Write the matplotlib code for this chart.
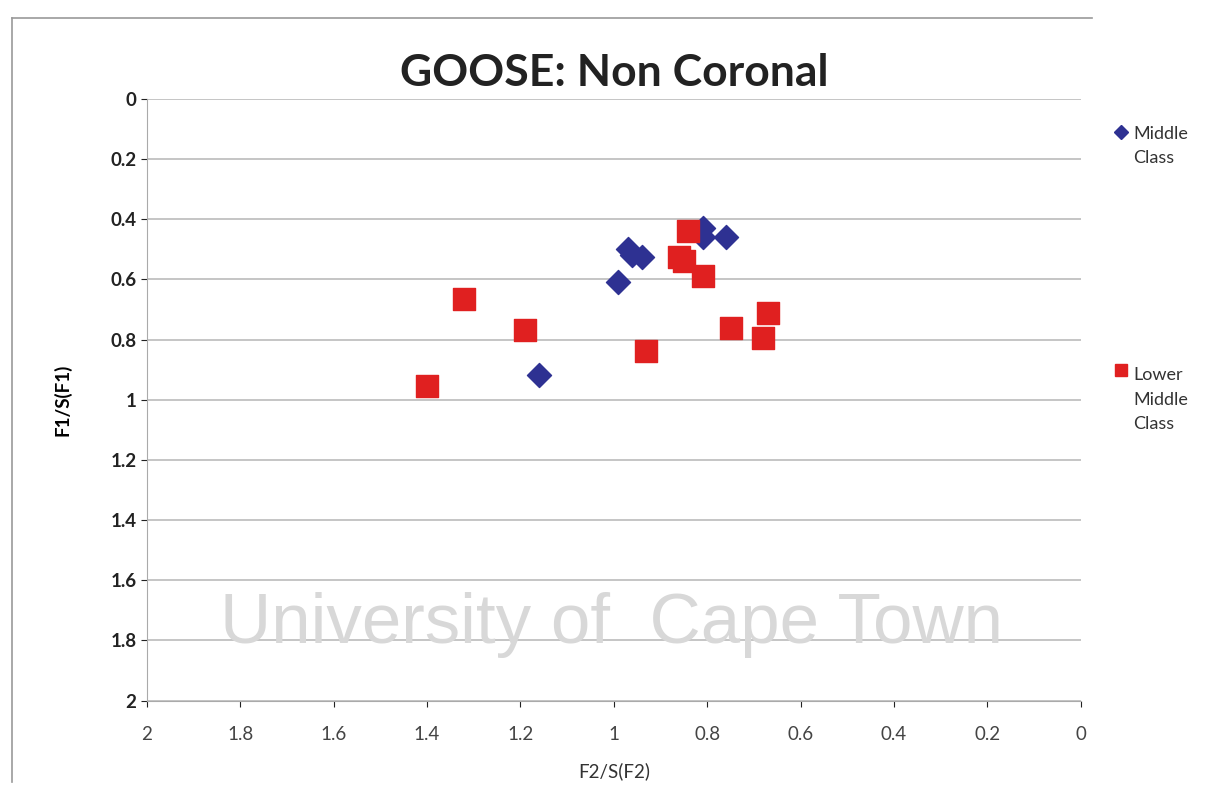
import matplotlib
matplotlib.use('Agg')
import matplotlib.pyplot as plt

plt.rcParams['font.family'] = ['Lato', 'DejaVu Sans']

# Middle Class (blue diamonds)
mc_f2 = [0.97, 0.96, 0.94, 0.99, 1.16, 0.81, 0.81, 0.76]
mc_f1 = [0.50, 0.52, 0.525, 0.61, 0.917, 0.43, 0.46, 0.46]

# Lower Middle Class (red squares)
lmc_f2 = [0.84, 0.86, 0.85, 0.81, 1.32, 1.19, 0.93, 0.75, 0.67, 0.68, 1.40]
lmc_f1 = [0.44, 0.524, 0.54, 0.588, 0.664, 0.767, 0.837, 0.761, 0.711, 0.794, 0.953]

xticks = [2, 1.8, 1.6, 1.4, 1.2, 1, 0.8, 0.6, 0.4, 0.2, 0]
yticks = [0, 0.2, 0.4, 0.6, 0.8, 1, 1.2, 1.4, 1.6, 1.8, 2]

fig = plt.figure(figsize=(12.13, 7.98), dpi=100)
ax = fig.add_axes([0.121, 0.122, 0.770, 0.754])

ax.scatter(mc_f2, mc_f1, marker='D', s=150, color='#2E3192', zorder=3)
ax.scatter(lmc_f2, lmc_f1, marker='s', s=260, color='#E02020', zorder=3)

ax.set_xlim(2, 0)
ax.set_ylim(2, 0)
ax.set_xticks(xticks)
ax.set_xticklabels([f'{v:g}' for v in xticks])
ax.set_yticks(yticks)
ax.set_yticklabels([f'{v:g}' for v in yticks], fontweight='bold')
ax.tick_params(labelsize=13.5, colors='#222222', length=4)
ax.tick_params(axis='x', labelcolor='#444444', pad=14)
ax.grid(axis='y', color='#BBBBBB', linewidth=1.2)
ax.set_axisbelow(True)
for s in ['top', 'right']:
    ax.spines[s].set_visible(False)
ax.spines['left'].set_color('#AAAAAA')
ax.spines['bottom'].set_color('#AAAAAA')

ax.set_xlabel('F2/S(F2)', fontsize=13.5, labelpad=14, color='#333333')
ax.set_ylabel('F1/S(F1)', fontsize=13.5, fontweight='bold', labelpad=28)
fig.text(0.506, 0.908, 'GOOSE: Non Coronal', ha='center', va='center',
         fontsize=32, fontweight='bold', color='#222222')

# legend drawn by hand like the Excel layout
fig.lines.append(plt.Line2D([0.9245], [0.834], marker='D', markersize=7,
                            color='#2E3192', transform=fig.transFigure))
fig.text(0.934, 0.817, 'Middle\nClass', fontsize=13, color='#333333',
         va='center', linespacing=1.65)
fig.lines.append(plt.Line2D([0.9245], [0.536], marker='s', markersize=8,
                            color='#E02020', transform=fig.transFigure))
fig.text(0.934, 0.499, 'Lower\nMiddle\nClass', fontsize=13, color='#333333',
         va='center', linespacing=1.65)

# watermark
fig.text(0.504, 0.217, 'University of  Cape Town', ha='center', va='center',
         fontsize=51, color='#D8D8D8', zorder=10,
         family=['Liberation Sans', 'DejaVu Sans'])

# scanned page border (left and top edges)
fig.lines.append(plt.Line2D([0.01, 0.01], [0.02, 0.978], color='#999999',
                            linewidth=1.2, transform=fig.transFigure))
fig.lines.append(plt.Line2D([0.01, 0.9], [0.978, 0.978], color='#999999',
                            linewidth=1.2, transform=fig.transFigure))

fig.savefig('out.png', dpi=100)
